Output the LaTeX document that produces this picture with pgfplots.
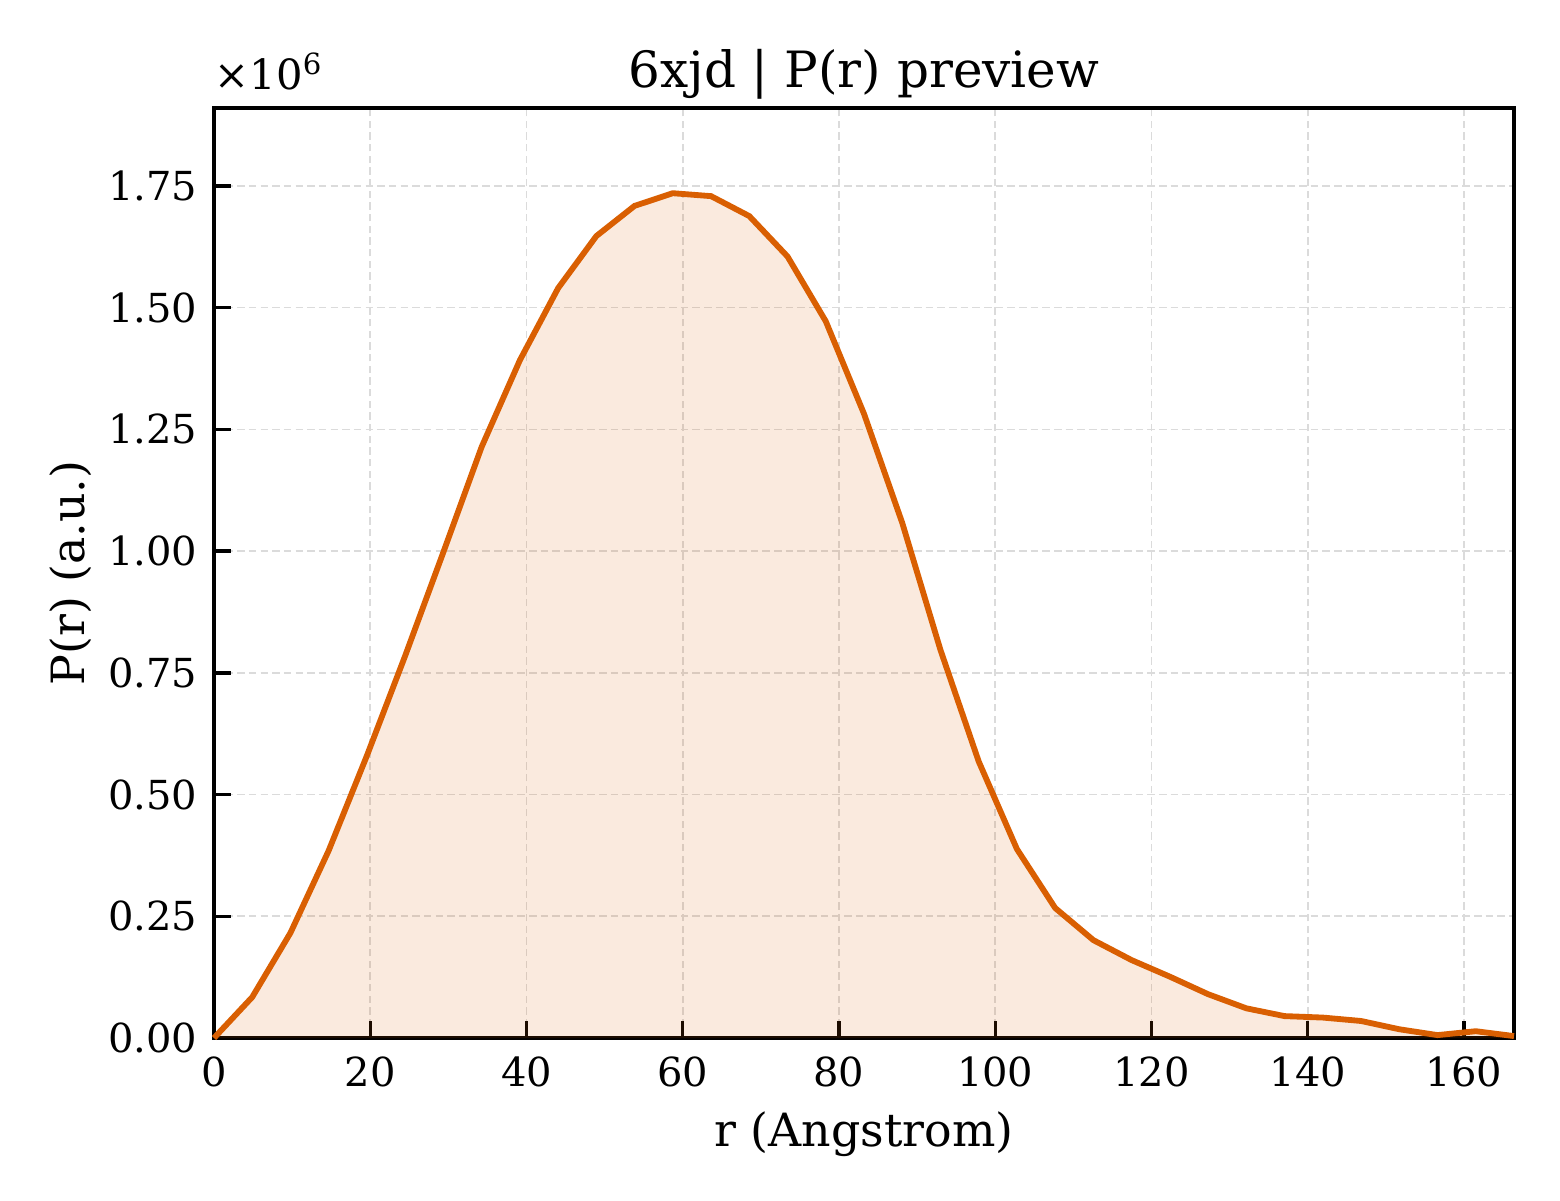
\documentclass[border=0pt]{standalone}
\usepackage{fontspec}
\setmainfont{DejaVu Serif}
\usepackage{pgfplots}
\pgfplotsset{compat=1.18}
\definecolor{pr}{HTML}{D95F02}
\pgfplotstableread{
r p
0 0
4.894 0.084
9.788 0.216
14.682 0.385
19.576 0.58
24.471 0.785
29.365 0.998
34.259 1.214
39.153 1.392
44.047 1.540
48.941 1.647
53.835 1.709
58.729 1.735
63.624 1.729
68.518 1.688
73.412 1.605
78.306 1.472
83.200 1.282
88.094 1.058
92.988 0.797
97.882 0.568
102.776 0.388
107.671 0.267
112.565 0.201
117.459 0.160
122.353 0.126
127.247 0.090
132.141 0.061
137.035 0.045
141.929 0.042
146.824 0.035
151.718 0.018
156.612 0.006
161.506 0.014
166.400 0.004
}\prdata
\begin{document}
\begin{tikzpicture}
\begin{axis}[
  scale only axis,
  width=312pt, height=223.2pt,
  xmin=0, xmax=166.4, ymin=0, ymax=1.91,
  xtick={0,20,...,160},
  ytick={0,0.25,...,1.75},
  axis line style={black, line width=0.9pt},
  tick style={black, line width=0.8pt},
  major tick length=4pt,
  tick align=inside,
  xtick pos=bottom, ytick pos=left,
  grid=major,
  major grid style={gray!28, line width=0.4pt, dash pattern=on 1.8pt off 1pt},
  /pgf/number format/assume math mode=true,
  ticklabel style={font=\fontsize{9.6}{11.5}\selectfont},
  yticklabel style={/pgf/number format/fixed, /pgf/number format/precision=2, /pgf/number format/fixed zerofill, xshift=-0.5pt},
  xticklabel style={yshift=-1pt},
  clip=false,
]
\addplot[draw=none, fill=pr, fill opacity=0.13] table[x=r,y=p]{\prdata} \closedcycle;
\addplot[pr, line width=1.4pt] table[x=r,y=p]{\prdata};
\node[anchor=base west, font=\fontsize{10}{12}\selectfont, inner sep=0pt] at ([xshift=0pt,yshift=4.5pt]rel axis cs:0,1) {×10\textsuperscript{6}};
\node[anchor=base, font=\fontsize{12}{14}\selectfont, inner sep=0pt] at ([yshift=5pt]rel axis cs:0.5,1) {6xjd | P(r) preview};
\node[anchor=base, font=\fontsize{11}{13}\selectfont, inner sep=0pt] at ([yshift=-26pt]rel axis cs:0.5,0) {r (Angstrom)};
\node[anchor=base, rotate=90, font=\fontsize{11}{13}\selectfont, inner sep=0pt] at ([xshift=-31pt]rel axis cs:0,0.5) {P(r) (a.u.)};
\end{axis}
\pgfresetboundingbox
\path[use as bounding box] ([xshift=-51.36pt,yshift=-38.88pt]current axis.south west) rectangle ([xshift=11.04pt,yshift=25.92pt]current axis.north east);
\end{tikzpicture}
\end{document}
